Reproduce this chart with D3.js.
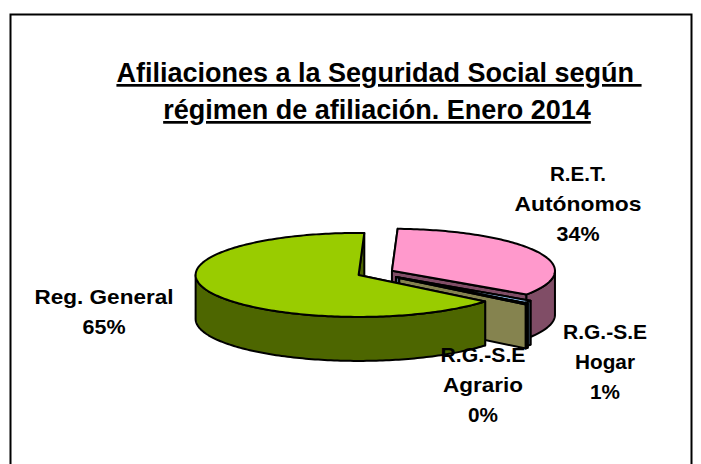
<!DOCTYPE html>
<html>
<head>
<meta charset="utf-8">
<script src="https://cdn.jsdelivr.net/npm/d3@7"></script>
<style>
	body { margin: 0; background: #fff; }
	text { font-family: "Liberation Sans", Arial, sans-serif; font-weight: bold; fill: #000; }
	.title { text-decoration: underline; text-decoration-thickness: 2px; text-underline-offset: 5px; }
</style>
</head>
<body>
<script>
// Values (labels round them to whole percents)
const categories = ['R.E.T. Autónomos', 'R.G.-S.E Hogar', 'R.G.-S.E Agrario', 'Reg. General'];
const shares = [0.34, 0.01, 0.003, 0.647];
const topColours = ['#FF99CC', '#99CCFF', '#FFFF99', '#99CC00'];
const wallColours = ['#804D66', '#4D6680', '#85834F', '#4D6600'];
const labelLines = [['R.E.T.', 'Autónomos'], ['R.G.-S.E', 'Hogar'], ['R.G.-S.E', 'Agrario'], ['Reg. General']];
const titleLines = ['Afiliaciones a la Seguridad Social según\u00a0', 'régimen de afiliación. Enero 2014'];

// Title and label layout: centre x, first baseline, width of each line
const titleX = [379, 377];
const labelPos = [[578, 181], [605, 339], [483, 362], [104, 304]];
const labelWidths = [[56, 127, 43], [84, 60, 30], [85, 80, 30], [139, 43]];

const width = 701;
const height = 464;

// Pie geometry
const cx = 375;
const cy = 273;
const rx = 163;
const ry = 42;
const depth = 44;
const explode = [19, 26, 31, 18]; // the thin slices sit further out in the picture
const startAngle = (2 * Math.PI) / 180;

const svg = d3.select('body').append('svg').attr('width', width).attr('height', height);

// Chart border, bottom edge falls outside the window
svg
	.append('path')
	.attr('d', `M10.5,${height}V14.5H691.5V${height}`)
	.attr('fill', 'none')
	.attr('stroke', '#000')
	.attr('stroke-width', 2);

// Title
titleLines.forEach((line, i) => {
	svg
		.append('text')
		.attr('class', 'title')
		.attr('text-anchor', 'middle')
		.attr('font-size', 27)
		.attr('x', titleX[i])
		.attr('y', 82 + i * 37)
		.text(line);
});

const slices = d3
	.pie()
	.value((d) => d)
	.sort(null)
	.startAngle(startAngle)
	.endAngle(startAngle + 2 * Math.PI)(shares);

const line = d3.line();

// Point on the rim of a slice, angle clockwise from 12 o'clock
function rim(a, ox, oy, dy) {
	return [ox + rx * Math.sin(a), oy - ry * Math.cos(a) + dy];
}

function arcPoints(a0, a1, ox, oy, dy) {
	const n = Math.max(2, Math.ceil((a1 - a0) / 0.02));
	return d3.range(n + 1).map((i) => rim(a0 + ((a1 - a0) * i) / n, ox, oy, dy));
}

function face(g, points, colour) {
	g.append('path')
		.attr('d', line(points) + 'Z')
		.attr('fill', colour)
		.attr('stroke', '#000')
		.attr('stroke-width', 2)
		.attr('stroke-linejoin', 'round');
}

// Slices are painted back to front in data order
slices.forEach((d, i) => {
	const mid = (d.startAngle + d.endAngle) / 2;
	const ox = cx + explode[i] * Math.sin(mid);
	const oy = cy - (explode[i] * ry * Math.cos(mid)) / rx;
	const g = svg.append('g').attr('class', 'slice');
	const wall = wallColours[i];

	// Cut faces going down from the apex
	[d.startAngle, d.endAngle].forEach((a) => {
		const p = rim(a, ox, oy, 0);
		face(g, [[ox, oy], p, [p[0], p[1] + depth], [ox, oy + depth]], wall);
	});

	// Outer wall, only the part that faces the viewer (90 to 270 degrees)
	[Math.PI / 2, (5 * Math.PI) / 2].forEach((base) => {
		const a0 = Math.max(d.startAngle, base);
		const a1 = Math.min(d.endAngle, base + Math.PI);
		if (a1 > a0) {
			face(g, arcPoints(a0, a1, ox, oy, 0).concat(arcPoints(a0, a1, ox, oy, depth).reverse()), wall);
		}
	});

	// Top
	face(g, [[ox, oy]].concat(arcPoints(d.startAngle, d.endAngle, ox, oy, 0)), topColours[i]);
});

// Data labels
const fmt = d3.format('.0%');
categories.forEach((c, i) => {
	labelLines[i].concat(fmt(shares[i])).forEach((l, j) => {
		svg
			.append('text')
			.attr('text-anchor', 'middle')
			.attr('font-size', 20.5)
			.attr('x', labelPos[i][0])
			.attr('y', labelPos[i][1] + j * 30)
			.attr('textLength', labelWidths[i][j])
			.attr('lengthAdjust', 'spacingAndGlyphs')
			.text(l);
	});
});
</script>
</body>
</html>
